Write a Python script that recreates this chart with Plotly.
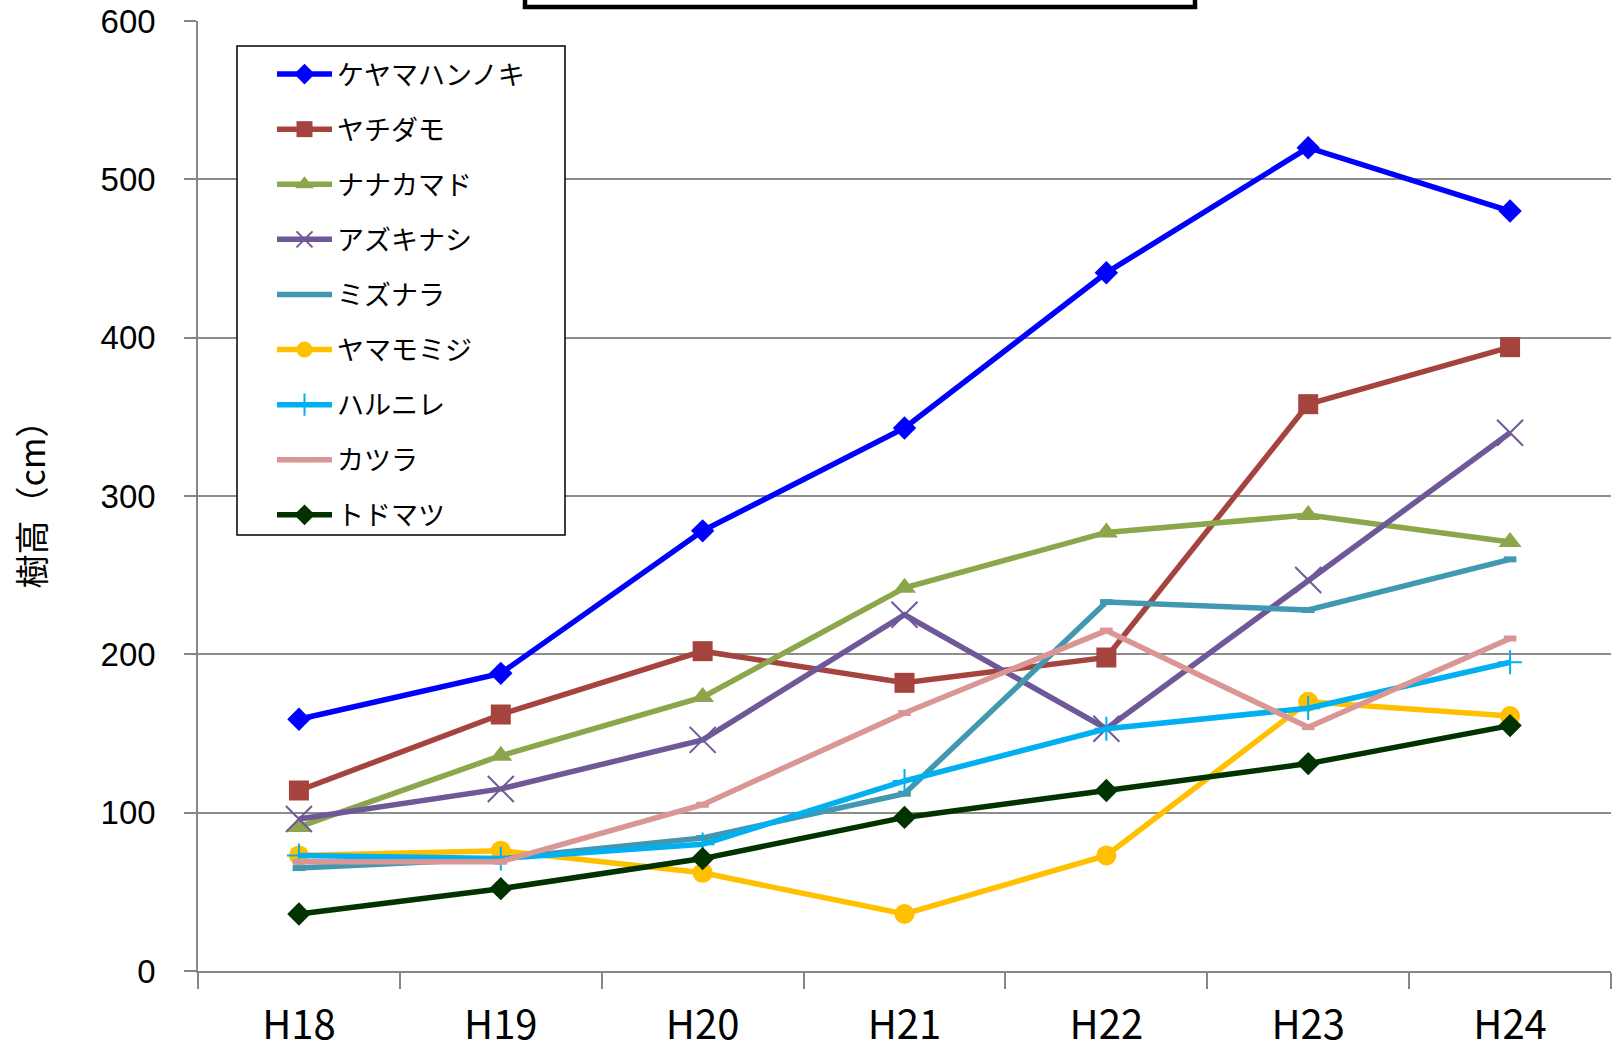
import plotly.graph_objects as go

years = ["H18", "H19", "H20", "H21", "H22", "H23", "H24"]

keyamahannoki = [159, 188, 278, 343, 441, 520, 480]
yachidamo = [114, 162, 202, 182, 198, 358, 394]
nanakamado = [91, 136, 173, 242, 277, 288, 271]
azukinashi = [96, 115, 146, 225, 153, 247, 340]
mizunara = [65, 71, 84, 112, 233, 228, 260]
yamamomiji = [73, 76, 62, 36, 73, 170, 161]
harunire = [73, 71, 80, 120, 153, 166, 195]
katsura = [69, 69, 105, 163, 215, 154, 210]
todomatsu = [36, 52, 71, 97, 114, 131, 155]

series_names = ["ケヤマハンノキ", "ヤチダモ", "ナナカマド", "アズキナシ", "ミズナラ",
                "ヤマモミジ", "ハルニレ", "カツラ", "トドマツ"]
series_values = [keyamahannoki, yachidamo, nanakamado, azukinashi, mizunara,
                 yamamomiji, harunire, katsura, todomatsu]

styles = [
    dict(color="#0000FF", symbol="diamond", size=18, mlw=0),
    dict(color="#A5443F", symbol="square", size=20, mlw=0),
    dict(color="#8BA64B", symbol="triangle-up", size=20, mlw=0),
    dict(color="#6F5898", symbol="x-thin", size=26, mlw=2),
    dict(color="#4298B0", symbol="line-ew", size=9, mlw=6),
    dict(color="#FFC000", symbol="circle", size=20, mlw=0),
    dict(color="#00B0F0", symbol="cross-thin", size=17, mlw=2),
    dict(color="#D99694", symbol="line-ew", size=9, mlw=6),
    dict(color="#003300", symbol="diamond", size=18, mlw=0),
]

FONT = "Noto Sans CJK JP"
NUMFONT = "Liberation Sans"
W, H = 1614, 1052
ML, MR, MT, MB = 198, 3, 21, 81
PW, PH = W - ML - MR, H - MT - MB

def dx(px):
    return (px - ML) / PW

def dy(py):
    return (H - MB - py) / PH

fig = go.Figure()
for i, (name, vals, st) in enumerate(zip(series_names, series_values, styles)):
    fig.add_trace(go.Scatter(
        x=years, y=vals, name=name, mode="lines+markers",
        legendgroup=f"g{i}",
        line=dict(color=st["color"], width=5.5),
        marker=dict(symbol=st["symbol"], size=st["size"], color=st["color"],
                    line=dict(color=st["color"], width=st["mlw"])),
    ))

# legend frame (legend itself is drawn above this)
fig.add_shape(type="rect", xref="paper", yref="paper",
              x0=dx(237), x1=dx(565), y0=dy(535), y1=dy(46),
              line=dict(color="black", width=1.5), fillcolor="white", layer="above")
# cut-off title box at top
fig.add_shape(type="rect", xref="paper", yref="paper",
              x0=dx(525), x1=dx(1195), y0=dy(7), y1=dy(-40),
              line=dict(color="black", width=4.5), fillcolor="rgba(0,0,0,0)", layer="above")

fig.update_layout(
    width=W, height=H,
    margin=dict(l=ML, r=MR, t=MT, b=MB, autoexpand=False),
    paper_bgcolor="white", plot_bgcolor="white",
    font=dict(family=FONT, color="black"),
    legend=dict(
        x=dx(272), y=dy(50), xanchor="left", yanchor="top",
        bgcolor="rgba(0,0,0,0)", borderwidth=0,
        font=dict(family=FONT, size=27, color="black"),
        tracegroupgap=17, itemwidth=55,
    ),
    xaxis=dict(
        type="category", range=[-0.5, 6.5], automargin=False,
        tickson="boundaries", ticks="outside", ticklen=16, tickwidth=1.5,
        tickcolor="#868686", showline=True, linecolor="#868686", linewidth=1.5,
        showgrid=False, tickfont=dict(family=FONT, size=40, color="black"),
        ticklabelstandoff=18,
    ),
    yaxis=dict(
        range=[0, 600.01], dtick=100, tick0=0, automargin=False,
        ticks="outside", ticklen=12, tickwidth=1.5, tickcolor="#868686",
        showline=True, linecolor="#868686", linewidth=1.5,
        showgrid=True, gridcolor="#8C8C8C", gridwidth=1.5,
        zeroline=True, zerolinecolor="#8C8C8C", zerolinewidth=2,
        tickfont=dict(family=NUMFONT, size=33, color="black"),
        ticklabelstandoff=22, ticklabeloverflow="allow",
        title=dict(text="樹高（cm）", font=dict(family=FONT, size=34, color="black"), standoff=45),
    ),
    showlegend=True,
)

fig.write_html("out.html")
